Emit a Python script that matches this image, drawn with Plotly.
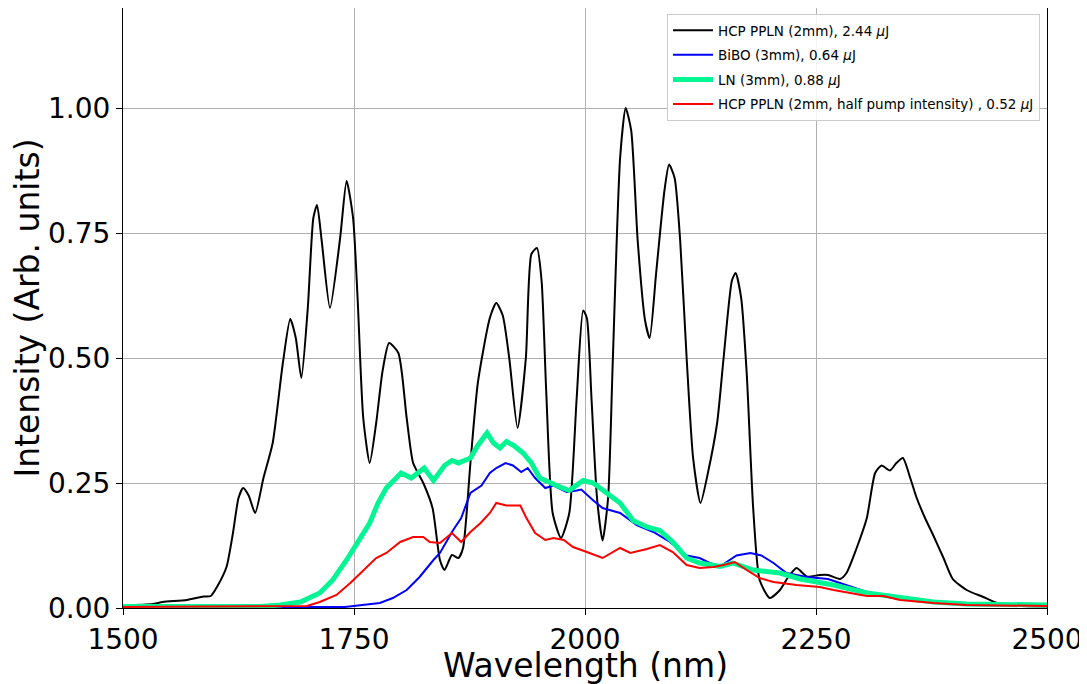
import plotly.graph_objects as go

# HCP PPLN (2mm), 2.44 uJ
wl_hcp = [1500, 1532, 1543, 1569, 1587, 1595, 1602, 1612, 1619, 1625, 1630, 1636, 1643, 1652, 1662, 1673,
          1681, 1687, 1693, 1700, 1706, 1710, 1715, 1724, 1735, 1742, 1749, 1754, 1760, 1767, 1774, 1781,
          1788, 1798, 1807, 1814, 1825, 1835, 1843, 1848, 1856, 1863, 1868, 1876, 1884, 1897, 1904, 1911,
          1918, 1927, 1936, 1942, 1948, 1953, 1958, 1965, 1974, 1983, 1991, 1998, 2002, 2007, 2013, 2019,
          2025, 2030, 2038, 2044, 2050, 2057, 2065, 2070, 2077, 2086, 2091, 2097, 2103, 2110, 2117, 2125,
          2133, 2143, 2150, 2159, 2163, 2169, 2175, 2182, 2189, 2200, 2211, 2220, 2229, 2240, 2254, 2263,
          2276, 2283, 2294, 2305, 2314, 2321, 2330, 2337, 2344, 2352, 2359, 2368, 2377, 2388, 2398, 2413,
          2431, 2446, 2463, 2500]
int_hcp = [0.005, 0.008, 0.012, 0.016, 0.023, 0.024, 0.043, 0.082, 0.15, 0.22, 0.24, 0.225, 0.19, 0.26, 0.33, 0.49,
           0.578, 0.54, 0.46, 0.60, 0.78, 0.806, 0.735, 0.60, 0.74, 0.854, 0.78, 0.615, 0.38, 0.29, 0.37, 0.475,
           0.53, 0.51, 0.38, 0.29, 0.25, 0.2, 0.096, 0.076, 0.106, 0.10, 0.12, 0.29, 0.45, 0.58, 0.61, 0.585,
           0.50, 0.36, 0.50, 0.708, 0.72, 0.655, 0.435, 0.19, 0.14, 0.19, 0.42, 0.595, 0.58, 0.42, 0.22, 0.135,
           0.22, 0.49, 0.90, 1.0, 0.955, 0.735, 0.575, 0.54, 0.67, 0.835, 0.887, 0.86, 0.735, 0.50, 0.30, 0.21,
           0.27, 0.37, 0.50, 0.655, 0.67, 0.62, 0.47, 0.20, 0.056, 0.02, 0.036, 0.062, 0.08, 0.063, 0.066, 0.066,
           0.058, 0.07, 0.12, 0.18, 0.27, 0.285, 0.275, 0.29, 0.30, 0.26, 0.22, 0.18, 0.145, 0.10, 0.058, 0.036,
           0.022, 0.01, 0.005, 0.003]

# BiBO (3mm), 0.64 uJ
wl_bibo = [1500, 1740, 1778, 1792, 1807, 1821, 1836, 1843, 1857, 1866, 1876, 1888, 1897, 1904, 1914, 1922,
           1931, 1938, 1946, 1957, 1966, 1980, 1991, 1996, 2009, 2019, 2038, 2056, 2074, 2092, 2110, 2124,
           2135, 2146, 2164, 2179, 2191, 2204, 2218, 2240, 2263, 2305, 2341, 2377, 2413, 2500]
int_bibo = [0.002, 0.002, 0.01, 0.02, 0.036, 0.062, 0.096, 0.11, 0.155, 0.18, 0.23, 0.245, 0.27, 0.28, 0.29, 0.285,
            0.272, 0.28, 0.26, 0.24, 0.245, 0.232, 0.235, 0.237, 0.215, 0.20, 0.19, 0.166, 0.152, 0.132, 0.105, 0.10,
            0.09, 0.083, 0.105, 0.11, 0.105, 0.09, 0.07, 0.062, 0.058, 0.032, 0.02, 0.012, 0.008, 0.005]

# LN (3mm), 0.88 uJ
wl_ln = [1500, 1650, 1670, 1692, 1713, 1727, 1742, 1756, 1767, 1776, 1785, 1801, 1812, 1826, 1836, 1848,
         1856, 1863, 1876, 1884, 1894, 1901, 1908, 1915, 1923, 1933, 1942, 1951, 1962, 1973, 1983, 1998,
         2009, 2024, 2038, 2052, 2067, 2081, 2095, 2110, 2124, 2146, 2160, 2182, 2211, 2233, 2269, 2305,
         2341, 2377, 2413, 2500]
int_ln = [0.003, 0.003, 0.006, 0.012, 0.03, 0.056, 0.096, 0.136, 0.17, 0.21, 0.24, 0.27, 0.26, 0.28, 0.255, 0.285,
          0.295, 0.29, 0.30, 0.325, 0.35, 0.33, 0.32, 0.333, 0.325, 0.31, 0.29, 0.26, 0.25, 0.242, 0.235, 0.255,
          0.25, 0.23, 0.21, 0.175, 0.162, 0.155, 0.132, 0.10, 0.09, 0.083, 0.09, 0.076, 0.07, 0.058, 0.046, 0.03,
          0.02, 0.012, 0.008, 0.006]

# HCP PPLN (2mm, half pump intensity), 0.52 uJ
wl_half = [1500, 1699, 1713, 1731, 1746, 1760, 1774, 1785, 1800, 1814, 1825, 1832, 1843, 1856, 1866, 1876,
           1887, 1897, 1904, 1915, 1930, 1936, 1946, 1957, 1966, 1977, 1987, 2002, 2019, 2038, 2049, 2067,
           2081, 2095, 2110, 2124, 2139, 2150, 2162, 2175, 2189, 2204, 2229, 2254, 2269, 2305, 2323, 2341,
           2377, 2413, 2500]
int_half = [0.002, 0.004, 0.012, 0.026, 0.05, 0.076, 0.10, 0.11, 0.132, 0.142, 0.142, 0.132, 0.13, 0.15, 0.132, 0.152,
            0.17, 0.19, 0.21, 0.205, 0.205, 0.182, 0.15, 0.136, 0.14, 0.136, 0.122, 0.112, 0.10, 0.12, 0.11, 0.118,
            0.126, 0.112, 0.086, 0.08, 0.082, 0.086, 0.092, 0.076, 0.06, 0.052, 0.046, 0.042, 0.036, 0.024, 0.024, 0.016,
            0.01, 0.006, 0.004]

x_ticks = [1500, 1750, 2000, 2250, 2500]
y_ticks = [0.0, 0.25, 0.5, 0.75, 1.0]

fig = go.Figure()
fig.add_trace(go.Scatter(x=wl_hcp, y=int_hcp, mode="lines", name="HCP PPLN (2mm), 2.44 <i>μ</i>J",
                         legendgroup="a",
                         line=dict(color="black", width=2, shape="spline", smoothing=0.6)))
fig.add_trace(go.Scatter(x=wl_bibo, y=int_bibo, mode="lines", name="BiBO (3mm), 0.64 <i>μ</i>J",
                         legendgroup="b", line=dict(color="#0000ff", width=2)))
fig.add_trace(go.Scatter(x=wl_ln, y=int_ln, mode="lines", name="LN (3mm), 0.88 <i>μ</i>J",
                         legendgroup="c", line=dict(color="#00F593", width=5)))
fig.add_trace(go.Scatter(x=wl_half, y=int_half, mode="lines",
                         name="HCP PPLN (2mm, half pump intensity) , 0.52 <i>μ</i>J",
                         legendgroup="d", line=dict(color="#ff0000", width=2)))

axis_common = dict(showline=True, linecolor="black", linewidth=1, mirror=True,
                   ticks="outside", ticklen=6, tickcolor="black", automargin=False,
                   showgrid=True, gridcolor="#b0b0b0", gridwidth=1, zeroline=False,
                   tickfont=dict(family="DejaVu Sans", size=28, color="black"))

fig.update_layout(
    width=1087, height=684,
    margin=dict(l=115, r=48, t=0, b=84),
    plot_bgcolor="white", paper_bgcolor="white",
    font=dict(family="DejaVu Sans", color="black"),
    xaxis=dict(range=[1500, 2500], tickvals=x_ticks, ticktext=[str(v) for v in x_ticks],
               **axis_common),
    yaxis=dict(range=[0, 1.2], tickvals=y_ticks, ticktext=[f"{v:.2f}" for v in y_ticks],
               title=dict(text="Intensity (Arb. units)", font=dict(size=33), standoff=2), **axis_common),
    legend=dict(x=0.9924, y=0.99, xanchor="right", yanchor="top",
                bgcolor="rgba(255,255,255,0.85)", bordercolor="#cccccc", borderwidth=1,
                font=dict(size=13.5, family="DejaVu Sans"), traceorder="grouped",
                tracegroupgap=4, itemwidth=40),
    showlegend=True,
    annotations=[dict(text="Wavelength (nm)", xref="paper", yref="paper", x=0.5, y=-0.096,
                      xanchor="center", yanchor="middle", showarrow=False,
                      font=dict(size=33, family="DejaVu Sans", color="black"))],
)

fig.write_html("out.html")
